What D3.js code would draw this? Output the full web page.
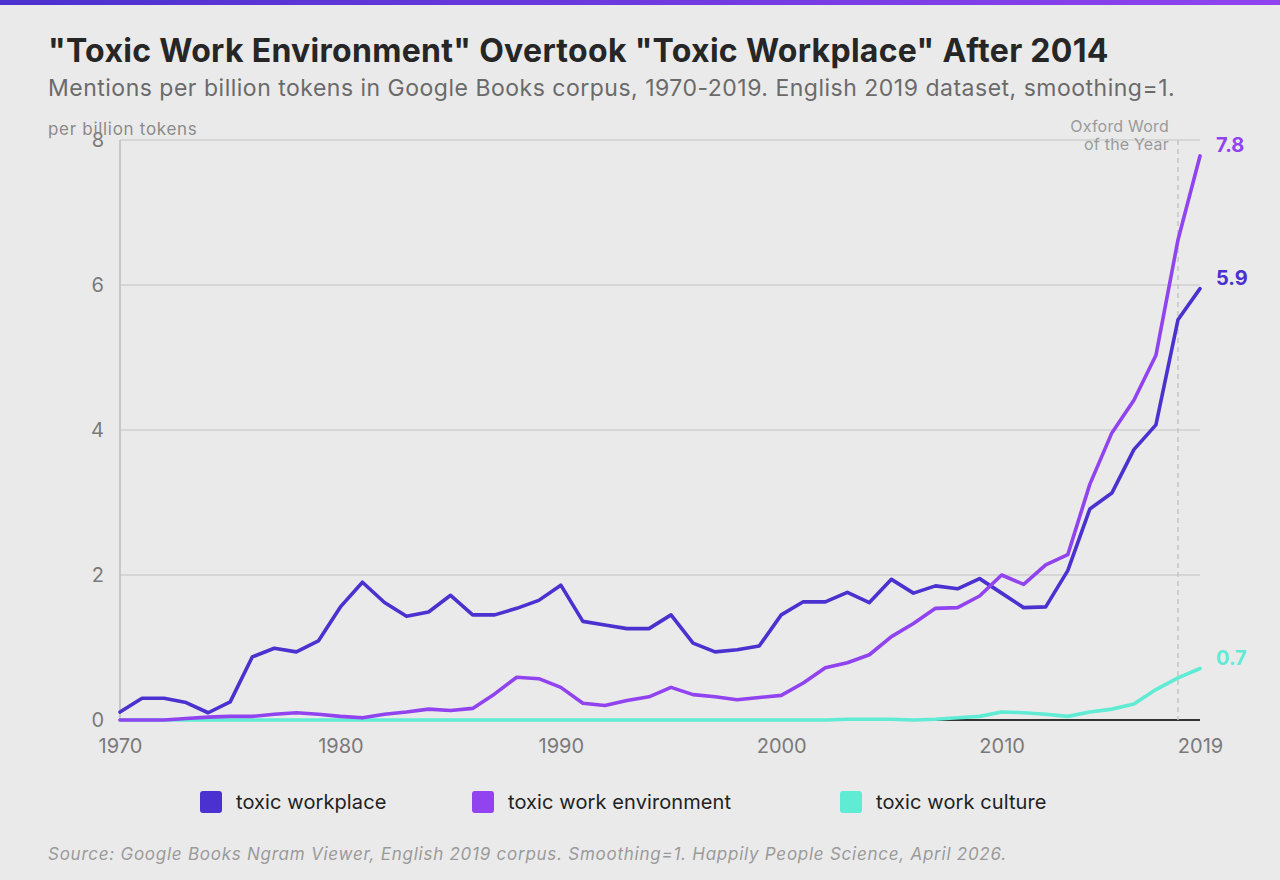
<!DOCTYPE html>
<html>
<head>
<meta charset="utf-8">
<script src="https://cdn.jsdelivr.net/npm/d3@7"></script>
<style>
  html, body { margin: 0; padding: 0; background: #eaeaea; }
  svg { display: block; font-family: Inter, "Noto Sans", sans-serif; }
</style>
</head>
<body>
<svg id="chart" width="1280" height="880"></svg>
<script>
const years = d3.range(1970, 2020);
const toxicWorkplace = [
  0.11, 0.30, 0.30, 0.24, 0.10, 0.25, 0.87, 0.99, 0.94, 1.09,
  1.56, 1.90, 1.62, 1.43, 1.49, 1.72, 1.45, 1.45, 1.54, 1.65,
  1.86, 1.36, 1.31, 1.26, 1.26, 1.45, 1.06, 0.94, 0.97, 1.02,
  1.45, 1.63, 1.63, 1.76, 1.62, 1.94, 1.75, 1.85, 1.81, 1.95,
  1.75, 1.55, 1.56, 2.06, 2.91, 3.13, 3.73, 4.07, 5.52, 5.95
];
const toxicWorkEnvironment = [
  0.00, 0.00, 0.00, 0.02, 0.04, 0.05, 0.05, 0.08, 0.10, 0.08,
  0.05, 0.03, 0.08, 0.11, 0.15, 0.13, 0.16, 0.36, 0.59, 0.57,
  0.45, 0.23, 0.20, 0.27, 0.32, 0.45, 0.35, 0.32, 0.28, 0.31,
  0.34, 0.51, 0.72, 0.79, 0.90, 1.15, 1.33, 1.54, 1.55, 1.71,
  2.00, 1.87, 2.14, 2.28, 3.25, 3.96, 4.41, 5.03, 6.62, 7.78
];
const toxicWorkCulture = [
  0, 0, 0, 0, 0, 0, 0, 0, 0, 0,
  0, 0, 0, 0, 0, 0, 0, 0, 0, 0,
  0, 0, 0, 0, 0, 0, 0, 0, 0, 0,
  0, 0, 0, 0.01, 0.01, 0.01, 0.00, 0.01, 0.03, 0.05,
  0.11, 0.10, 0.08, 0.05, 0.11, 0.15, 0.22, 0.42, 0.58, 0.71
];
const seriesNames = ["toxic workplace", "toxic work environment", "toxic work culture"];
const seriesColors = ["#4b31cf", "#9043ef", "#60ebd5"];
const endLabels = ["5.9", "7.8", "0.7"];
const xTicks = [1970, 1980, 1990, 2000, 2010, 2019];
const yTicks = [0, 2, 4, 6, 8];
const oxfordYear = 2018;

const title = "\"Toxic Work Environment\" Overtook \"Toxic Workplace\" After 2014";
const subtitle = "Mentions per billion tokens in Google Books corpus, 1970-2019. English 2019 dataset, smoothing=1.";
const source = "Source: Google Books Ngram Viewer, English 2019 corpus. Smoothing=1. Happily People Science, April 2026.";

const allSeries = [toxicWorkplace, toxicWorkEnvironment, toxicWorkCulture];

const svg = d3.select("#chart");
const W = 1280, H = 880;
const m = { left: 120, right: 80, top: 140, bottom: 160 };

// top gradient bar
const defs = svg.append("defs");
const grad = defs.append("linearGradient").attr("id", "topbar").attr("x1", "0%").attr("x2", "100%");
grad.append("stop").attr("offset", "0%").attr("stop-color", "#4b31cf");
grad.append("stop").attr("offset", "100%").attr("stop-color", "#9043ef");
svg.append("rect").attr("x", 0).attr("y", 0).attr("width", W).attr("height", 5).attr("fill", "url(#topbar)");

// titles
svg.append("text").attr("x", 48).attr("y", 62).attr("font-size", 32).attr("font-weight", 700)
  .attr("fill", "#262626").attr("letter-spacing", 0.3).text(title);
svg.append("text").attr("x", 48).attr("y", 96).attr("font-size", 23).attr("fill", "#6a6a6a")
  .attr("letter-spacing", 0.5).text(subtitle);

const x = d3.scaleLinear().domain([1970, 2019]).range([m.left, W - m.right]);
const y = d3.scaleLinear().domain([0, 8]).range([H - m.bottom, m.top]);

// gridlines
svg.append("g").selectAll("line").data(yTicks.filter(d => d > 0)).join("line")
  .attr("x1", x(1970)).attr("x2", x(2019)).attr("y1", d => y(d)).attr("y2", d => y(d))
  .attr("stroke", "#cfcfcf").attr("stroke-width", 1.5);

// left axis line
svg.append("line").attr("x1", x(1970)).attr("x2", x(1970)).attr("y1", y(8)).attr("y2", y(0))
  .attr("stroke", "#bdbdbd").attr("stroke-width", 1.5);

// y axis
const yAxis = svg.append("g").attr("transform", `translate(${x(1970)},0)`)
  .call(d3.axisLeft(y).tickValues(yTicks).tickSize(0).tickPadding(16).tickFormat(d3.format("d")));
yAxis.select(".domain").remove();
yAxis.selectAll("text").attr("font-size", 20).attr("fill", "#7a7a7a").attr("font-family", "Inter, sans-serif");

// x axis
const xAxis = svg.append("g").attr("transform", `translate(0,${y(0)})`)
  .call(d3.axisBottom(x).tickValues(xTicks).tickSize(0).tickPadding(19).tickFormat(d3.format("d")));
xAxis.select(".domain").remove();
xAxis.selectAll("text").attr("font-size", 20).attr("fill", "#7a7a7a").attr("font-family", "Inter, sans-serif");

// y axis title
svg.append("text").attr("x", 48).attr("y", 135).attr("font-size", 17).attr("fill", "#8a8a8a")
  .attr("letter-spacing", 0.7).text("per billion tokens");

// baseline
svg.append("line").attr("x1", x(1970)).attr("x2", x(2019)).attr("y1", y(0)).attr("y2", y(0))
  .attr("stroke", "#333").attr("stroke-width", 2);

// oxford annotation
svg.append("line").attr("x1", x(oxfordYear)).attr("x2", x(oxfordYear)).attr("y1", y(8)).attr("y2", y(0))
  .attr("stroke", "#c4c4c4").attr("stroke-width", 1.5).attr("stroke-dasharray", "5,4");
const ox = svg.append("text").attr("x", x(oxfordYear) - 9).attr("y", 132).attr("text-anchor", "end")
  .attr("font-size", 16).attr("fill", "#9a9a9a").attr("letter-spacing", 0.2);
ox.append("tspan").attr("x", x(oxfordYear) - 9).attr("dy", 0).text("Oxford Word");
ox.append("tspan").attr("x", x(oxfordYear) - 9).attr("dy", 18).text("of the Year");

// lines
const line = d3.line().x((d, i) => x(years[i])).y(d => y(d));
const order = [2, 0, 1];
order.forEach(k => {
  svg.append("path").datum(allSeries[k]).attr("d", line).attr("fill", "none")
    .attr("stroke", seriesColors[k]).attr("stroke-width", 3.6)
    .attr("stroke-linejoin", "round").attr("stroke-linecap", "round");
});

// end labels
allSeries.forEach((s, k) => {
  svg.append("text").attr("x", x(2019) + 16).attr("y", y(s[s.length - 1]) - 4)
    .attr("font-size", 20).attr("font-weight", 700).attr("fill", seriesColors[k]).text(endLabels[k]);
});

// legend
const legendX = [200, 472, 840];
seriesNames.forEach((name, k) => {
  svg.append("rect").attr("x", legendX[k]).attr("y", 791).attr("width", 22).attr("height", 22)
    .attr("rx", 3).attr("fill", seriesColors[k]);
  svg.append("text").attr("x", legendX[k] + 36).attr("y", 809).attr("font-size", 20)
    .attr("fill", "#222").attr("letter-spacing", 0.1).text(name);
});

// source
svg.append("text").attr("x", 48).attr("y", 860).attr("font-size", 17).attr("font-style", "italic")
  .attr("fill", "#9a9a9a").attr("letter-spacing", 0.75).text(source);
</script>
</body>
</html>
